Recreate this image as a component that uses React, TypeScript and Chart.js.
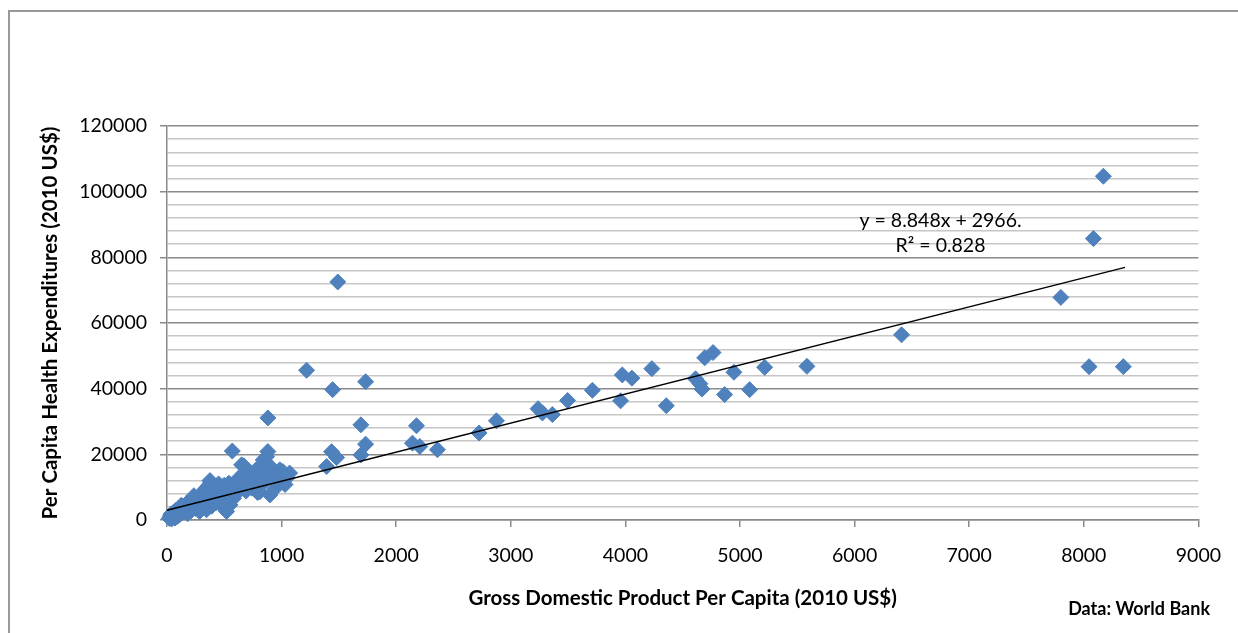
import React, { useEffect, useRef } from "react";
import { Chart, registerables } from "chart.js";

Chart.register(...registerables);

// GDP per capita (2010 US$) for each country
const gdpPerCapita = [
  20, 30, 40, 50, 60, 70, 80, 90, 100, 35, 55, 75,
  110, 120, 130, 140, 150, 160, 170, 180, 190, 200, 125, 175,
  210, 220, 230, 240, 250, 260, 270, 280, 290, 300, 235, 285,
  310, 320, 330, 340, 350, 360, 370, 380, 390, 400, 345, 375,
  410, 420, 430, 440, 450, 460, 470, 480, 490, 500,
  510, 520, 530, 540, 550, 560, 570, 580, 590, 600,
  620, 640, 651, 665, 671, 680, 690, 700, 695,
  720, 740, 760, 775, 790, 800, 811, 780,
  820, 840, 855, 869, 880, 880, 898, 860, 890,
  920, 940, 960, 985, 1000, 1011, 1044, 1070, 975, 1030,
  1218, 1445, 1733, 1490, 1692, 1733, 1692, 1436, 1480, 1393,
  2177, 2142, 2206, 2360, 2723, 2875, 3238, 3276, 3363, 3496,
  3712, 3958, 3973, 4057, 4231, 4357, 4612, 4650, 4668, 4692,
  4765, 4866, 4947, 5084, 5215, 5584, 6410, 7800, 8046, 8084,
  8171, 8345,
];

// Health expenditures per capita (2010 US$), same order
const healthPerCapita = [
  500, 1200, 300, 800, 1500, 600, 2000, 1100, 2500, 1800, 2300, 2900,
  1600, 3000, 2200, 3800, 2700, 4200, 3300, 1900, 4600, 3600, 4500, 5200,
  2800, 5000, 4100, 6200, 3500, 5600, 7000, 4700, 6500, 8000, 7400, 2600,
  5400, 8800, 7200, 9600, 6100, 10400, 8300, 11300, 4200, 9300, 3100, 12000,
  7600, 10100, 5300, 8700, 11000, 6800, 9800, 4600, 7900, 10600,
  3200, 2600, 8200, 11200, 4600, 9100, 21000, 6600, 10300, 7800,
  12600, 9500, 16800, 14000, 16500, 11400, 8800, 13200, 10100,
  12100, 9700, 14500, 11200, 8400, 10600, 8640, 15400,
  13300, 18300, 15600, 19300, 20850, 31100, 7630, 11900, 16700,
  12800, 9500, 14200, 15300, 13500, 14750, 12700, 14300, 11100, 10800,
  45600, 39700, 42100, 72500, 29000, 23100, 19800, 20800, 19000, 16300,
  28700, 23400, 22400, 21400, 26500, 30200, 33900, 32600, 32100, 36400,
  39500, 36300, 44200, 43200, 46100, 34800, 43000, 41500, 39900, 49400,
  51000, 38200, 45000, 39700, 46500, 46800, 56400, 67800, 46700, 85700,
  104700, 46700,
];

// Linear trendline endpoints (y = 8.848x + 2966)
const trendX = [0, 8360];
const trendY = [2966, 76936];

const xTickValues = [0, 1000, 2000, 3000, 4000, 5000, 6000, 7000, 8000, 9000];
const yMajorTicks = [0, 20000, 40000, 60000, 80000, 100000, 120000];

const equationLines = ["y = 8.848x + 2966.", "R² = 0.828"];
const sourceText = "Data: World Bank";
const xTitle = "Gross Domestic Product Per Capita (2010 US$)";
const yTitle = "Per Capita Health Expenditures (2010 US$)";

const FONT = "Lato, 'Open Sans', sans-serif";
const MAJOR = "#8a8a8a";
const MINOR = "#c6c6c6";

export default function App() {
  const ref = useRef<HTMLCanvasElement | null>(null);

  useEffect(() => {
    if (!ref.current) return;
    const decor = {
      id: "decor",
      beforeDraw(chart: any) {
        const ctx = chart.ctx;
        ctx.save();
        ctx.strokeStyle = "#999999";
        ctx.lineWidth = 2;
        ctx.beginPath();
        ctx.moveTo(9, 633);
        ctx.lineTo(9, 11);
        ctx.lineTo(1238, 11);
        ctx.stroke();
        ctx.restore();
      },
      afterDraw(chart: any) {
        const ctx = chart.ctx;
        const xs = chart.scales.x;
        const ys = chart.scales.y;
        ctx.save();
        ctx.fillStyle = "#000";
        ctx.textAlign = "center";
        ctx.textBaseline = "middle";
        ctx.font = `19.5px ${FONT}`;
        const cx = xs.getPixelForValue(6750);
        const cy = ys.getPixelForValue(91000);
        ctx.fillText(equationLines[0], cx, cy);
        ctx.fillText(equationLines[1], cx, cy + 25);
        ctx.font = `bold 18px ${FONT}`;
        ctx.textAlign = "right";
        ctx.fillText(sourceText, 1210, 609);
        ctx.restore();
      },
    };

    const chart = new Chart(ref.current, {
      type: "scatter",
      data: {
        datasets: [
          {
            label: "Trend",
            type: "line",
            data: trendX.map((x, i) => ({ x, y: trendY[i] })),
            borderColor: "#000",
            borderWidth: 1.5,
            pointRadius: 0,
            showLine: true,
            fill: false,
            order: 0,
            clip: false as any,
          },
          {
            label: "Countries",
            data: gdpPerCapita.map((x, i) => ({ x, y: healthPerCapita[i] })),
            backgroundColor: "#4F81BD",
            borderColor: "#4F81BD",
            borderWidth: 1,
            pointStyle: "rectRot",
            pointRadius: 8,
            order: 1,
            clip: false as any,
          },
        ],
      },
      options: {
        responsive: false,
        animation: false,
        events: [],
        layout: { padding: { top: 126, right: 39, left: 0, bottom: 0 } },
        plugins: { legend: { display: false }, tooltip: { enabled: false } },
        scales: {
          x: {
            type: "linear",
            min: 0,
            max: 9000,
            afterFit: (s: any) => {
              s.height = 113;
            },
            afterBuildTicks: (s: any) => {
              s.ticks = xTickValues.map((v) => ({ value: v }));
            },
            ticks: {
              color: "#000",
              font: { family: FONT, size: 19.5 },
              padding: 17,
              maxRotation: 0,
              autoSkip: false,
              callback: (v: any) => String(v),
            },
            grid: {
              drawOnChartArea: false,
              drawTicks: true,
              tickLength: 7,
              color: MAJOR,
              lineWidth: 1.5,
            },
            border: { color: MAJOR, width: 1.5 },
            title: {
              display: true,
              text: xTitle,
              color: "#000",
              font: { family: FONT, size: 20.5, weight: "bold" },
              padding: { top: 0, bottom: 22 },
            },
          },
          y: {
            type: "linear",
            min: 0,
            max: 120000,
            afterFit: (s: any) => {
              s.width = 167;
            },
            ticks: {
              stepSize: 4000,
              autoSkip: false,
              color: "#000",
              font: { family: FONT, size: 19.5 },
              padding: 13,
              callback: (v: any) => (yMajorTicks.includes(Number(v)) ? String(v) : ""),
            },
            grid: {
              tickLength: 7,
              color: (c: any) => (yMajorTicks.includes(c.tick?.value) ? MAJOR : MINOR),
              tickColor: (c: any) => (yMajorTicks.includes(c.tick?.value) ? MAJOR : "rgba(0,0,0,0)"),
              lineWidth: 1.5,
            },
            border: { color: MAJOR, width: 1.5 },
            title: {
              display: true,
              text: yTitle,
              color: "#000",
              font: { family: FONT, size: 20.5, weight: "bold" },
              padding: { top: 38, bottom: 0 },
            },
          },
        },
      },
      plugins: [decor],
    });
    return () => chart.destroy();
  }, []);

  return (
    <canvas
      ref={ref}
      width={1238}
      height={633}
      style={{ position: "fixed", left: 0, top: 0, width: 1238, height: 633, display: "block" }}
    />
  );
}
